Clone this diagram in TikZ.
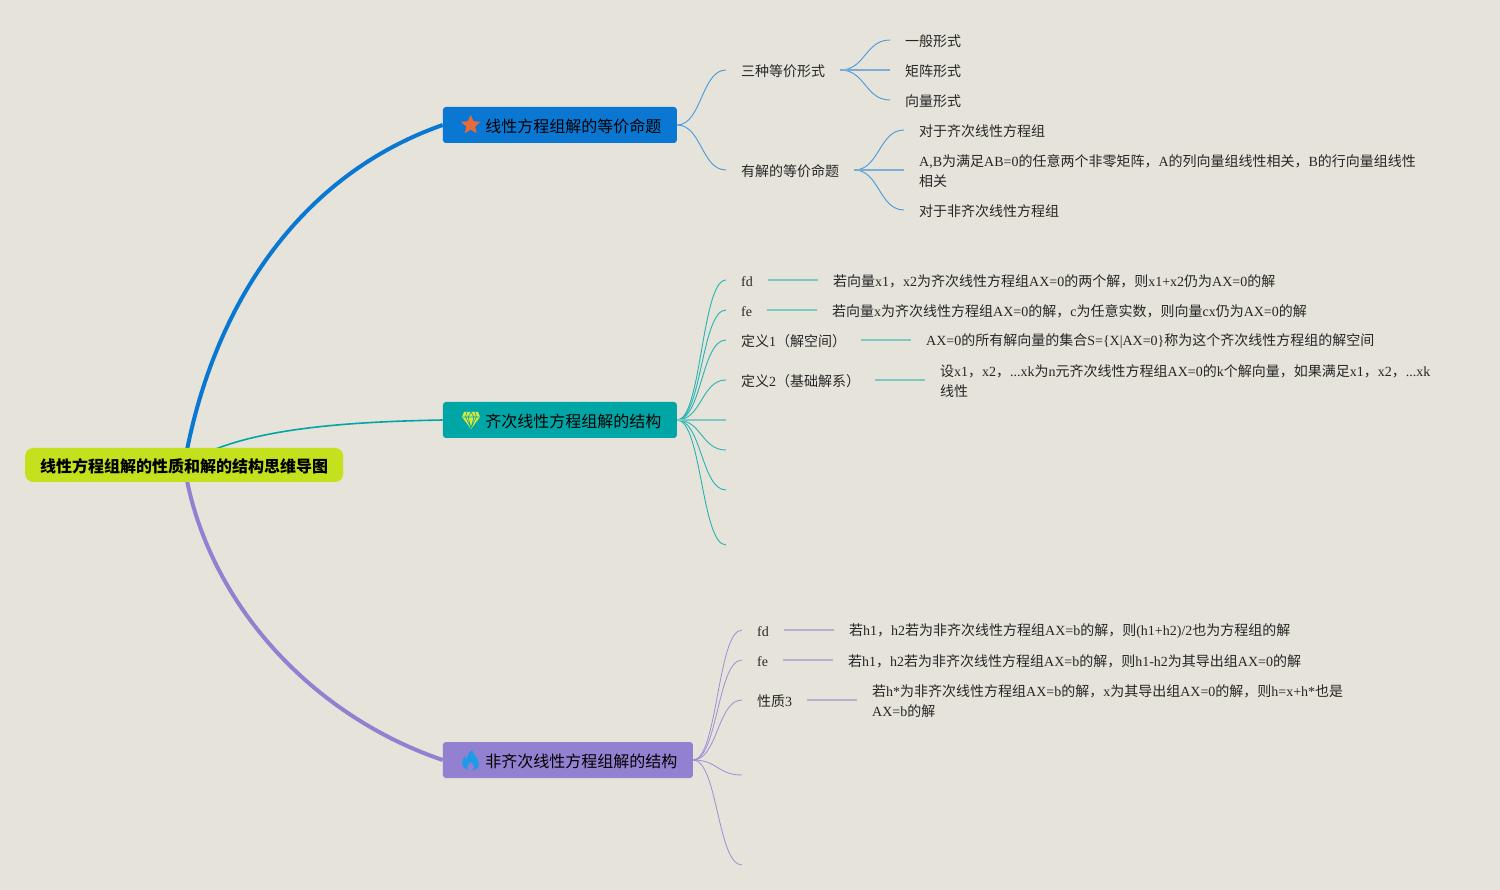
\documentclass[tikz,border=0pt]{standalone}
\usepackage{fontspec}
\usepackage{xcolor}
\usetikzlibrary{calc,backgrounds,shapes.geometric}
\setmainfont{Liberation Serif}
\newfontfamily\cjk{Noto Sans CJK SC}
% switch to the CJK font for Chinese characters
\XeTeXinterchartokenstate=1
\newXeTeXintercharclass\cjkclass
\count255="4E00
\loop\XeTeXcharclass\count255=\cjkclass\ifnum\count255<"9FFF\advance\count255 by 1\repeat
\XeTeXcharclass"FF0C=\cjkclass
\XeTeXcharclass"FF08=\cjkclass
\XeTeXcharclass"FF09=\cjkclass
\XeTeXinterchartoks 0 \cjkclass={\cjk}
\XeTeXinterchartoks 4095 \cjkclass={\cjk}
\XeTeXinterchartoks \cjkclass 0={\rmfamily}
\XeTeXinterchartoks \cjkclass 4095={\rmfamily}

\definecolor{paper}{HTML}{E6E3DA}
\definecolor{cRoot}{HTML}{C5E01C}
\definecolor{cBlue}{HTML}{0A78D2}
\definecolor{cTeal}{HTML}{00A6A6}
\definecolor{cPurple}{HTML}{9480D0}
\definecolor{cStar}{HTML}{E8693A}
\definecolor{cGem}{HTML}{DCE83C}
\definecolor{cFlame}{HTML}{1E9BE6}

% S shaped link from the east side of one node to the west side of another
\newcommand{\curvelink}[3]{\draw[#1] (#2) .. controls ($(#2)!0.5!(#3 |- #2)$) and ($(#2 |- #3)!0.5!(#3)$) .. (#3);}
\newcommand{\twolines}[2]{\vbox{\hbox{#1}\hbox{#2}}}

\tikzset{
    nudged/.style={execute at begin node={\setbox0\hbox\bgroup},execute at end node={\egroup\raisebox{-#1}[\height][\depth]{\box0}}},
    topicbox/.style={anchor=west,rounded corners=3pt,inner xsep=15.5pt,inner ysep=0pt,minimum height=36pt,text=black,font=\fontsize{16}{20}\selectfont,nudged=1pt},
    leaf/.style={anchor=west,inner xsep=15pt,inner ysep=0pt,text=black!85,font=\fontsize{14}{20}\selectfont,nudged=1.5pt},
    blueline/.style={cBlue!75!white,line width=0.9pt},
    tealline/.style={cTeal!85!white,line width=0.9pt},
    purpleline/.style={cPurple!90!white,line width=0.8pt},
    bluebar/.style={cBlue!50!paper,line width=1.5pt},
    tealbar/.style={cTeal!45!paper,line width=1.5pt},
    purplebar/.style={cPurple!55!paper,line width=1.5pt}
}

\begin{document}
\begin{tikzpicture}[x=1pt,y=-1pt]
    \useasboundingbox (0,0) rectangle (1500,890);

    % root and main topics
    \node (nRoot) [anchor=west,fill=cRoot,rounded corners=8pt,inner xsep=15pt,inner ysep=0pt,minimum height=34pt,text=black,font=\fontsize{16}{20}\selectfont\bfseries,nudged=1pt] at (25,465) {线性方程组解的性质和解的结构思维导图};
    \node (nEquiv) [topicbox,fill=cBlue] at (442.7,125) {\hspace*{27pt}线性方程组解的等价命题};
    \node (nHomog) [topicbox,fill=cTeal] at (442.7,420) {\hspace*{27pt}齐次线性方程组解的结构};
    \node (nInhom) [topicbox,fill=cPurple] at (442.7,760) {\hspace*{27pt}非齐次线性方程组解的结构};

    % icons
    \node (iconStar) [star,star points=5,star point ratio=2.1,fill=cStar,inner sep=0pt,minimum size=20pt] at ($(nEquiv.west)+(28,0)$) {};
    \fill[cGem] (464,412) -- (478,412) -- (480,417) -- (471,429) -- (462,417) -- cycle;
    \draw[cTeal,line width=0.6pt] (462.5,417) -- (479.5,417) (467,412) -- (465.5,417) -- (471,428) -- (476.5,417) -- (475,412) (471,412) -- (468,417) -- (471,428) -- (474,417) -- cycle;
    \fill[cFlame] (472,750) .. controls (473,755) and (479,758) .. (479,764) .. controls (479,768) and (476,770) .. (471,770) .. controls (465,770) and (462,767) .. (462,763) .. controls (462,760) and (464,757) .. (465,756) .. controls (465,758) and (466,759) .. (467,759) .. controls (467,756) and (469,752) .. (472,750) -- cycle;
    \fill[cPurple] (471,762) .. controls (472,764) and (474,765) .. (474,767) .. controls (474,769) and (472,770) .. (471,770) .. controls (469,770) and (467,769) .. (467,767) .. controls (467,765) and (470,764) .. (471,762) -- cycle;

    % first topic
    \node (nForms) [leaf] at (726,70) {三种等价形式};
    \node (nF1) [leaf] at (890,40) {一般形式};
    \node (nF2) [leaf] at (890,70) {矩阵形式};
    \node (nF3) [leaf] at (890,100) {向量形式};
    \node (nSolv) [leaf] at (726,170) {有解的等价命题};
    \node (nS1) [leaf] at (904,130) {对于齐次线性方程组};
    \node (nS2) [leaf] at (904,170) {\twolines{A,B为满足AB=0的任意两个非零矩阵，A的列向量组线性相关，B的行向量组线性}{相关}};
    \node (nS3) [leaf] at (904,210) {对于非齐次线性方程组};

    % second topic
    \node (nFd) [leaf] at (726,280) {fd};
    \node (nFdT) [leaf] at (818,280) {若向量x1，x2为齐次线性方程组AX=0的两个解，则x1+x2仍为AX=0的解};
    \node (nFe) [leaf] at (726,310) {fe};
    \node (nFeT) [leaf] at (817,310) {若向量x为齐次线性方程组AX=0的解，c为任意实数，则向量cx仍为AX=0的解};
    \node (nDefa) [leaf] at (726,340) {定义1（解空间）};
    \node (nDefaT) [leaf] at (911,340) {AX=0的所有解向量的集合S=\{X|AX=0\}称为这个齐次线性方程组的解空间};
    \node (nDefb) [leaf] at (726,380) {定义2（基础解系）};
    \node (nDefbT) [leaf] at (925,380) {\twolines{设x1，x2，...xk为n元齐次线性方程组AX=0的k个解向量，如果满足x1，x2，...xk}{线性}};
    \coordinate (eHa) at (726,420);
    \coordinate (eHb) at (726,450);
    \coordinate (eHc) at (726,490);
    \coordinate (eHd) at (726,545);

    % third topic
    \node (nIfd) [leaf] at (742,630) {fd};
    \node (nIfdT) [leaf] at (834,630) {若h1，h2若为非齐次线性方程组AX=b的解，则(h1+h2)/2也为方程组的解};
    \node (nIfe) [leaf] at (742,660) {fe};
    \node (nIfeT) [leaf] at (833,660) {若h1，h2若为非齐次线性方程组AX=b的解，则h1-h2为其导出组AX=0的解};
    \node (nProp) [leaf] at (742,700) {性质3};
    \node (nPropT) [leaf] at (857,700) {\twolines{若h*为非齐次线性方程组AX=b的解，x为其导出组AX=0的解，则h=x+h*也是}{AX=b的解}};
    \coordinate (eIa) at (742,775);
    \coordinate (eIb) at (742,865);

    \begin{pgfonlayer}{background}
        \fill[paper] (0,0) rectangle (1500,890);

        \draw[cBlue,line width=4pt] (nRoot.center) .. controls (212,305) and (300,175) .. (nEquiv.west);
        \draw[cTeal,line width=1.6pt] (nRoot.center) .. controls (235,431) and (330,422) .. (nHomog.west);
        \draw[cPurple,line width=4pt] (nRoot.center) .. controls (205,600) and (310,715) .. (nInhom.west);

        \foreach \b in {nForms,nSolv}
            \curvelink{blueline}{nEquiv.east}{\b.west};
        \foreach \b in {nF1,nF3}
            \curvelink{blueline}{nForms.east}{\b.west};
        \foreach \b in {nS1,nS3}
            \curvelink{blueline}{nSolv.east}{\b.west};
        \draw[bluebar] (nForms.east) -- (nF2.west);
        \draw[bluebar] (nSolv.east) -- (nS2.west);

        \foreach \b in {nFd.west,nFe.west,nDefa.west,nDefb.west,eHb,eHc,eHd}
            \curvelink{tealline}{nHomog.east}{\b};
        \draw[tealbar] (nHomog.east) -- (eHa);
        \draw[tealbar] (nFd.east) -- (nFdT.west);
        \draw[tealbar] (nFe.east) -- (nFeT.west);
        \draw[tealbar] (nDefa.east) -- (nDefaT.west);
        \draw[tealbar] (nDefb.east) -- (nDefbT.west);

        \foreach \b in {nIfd.west,nIfe.west,nProp.west,eIa,eIb}
            \curvelink{purpleline}{nInhom.east}{\b};
        \draw[purplebar] (nIfd.east) -- (nIfdT.west);
        \draw[purplebar] (nIfe.east) -- (nIfeT.west);
        \draw[purplebar] (nProp.east) -- (nPropT.west);
    \end{pgfonlayer}
\end{tikzpicture}
\end{document}
